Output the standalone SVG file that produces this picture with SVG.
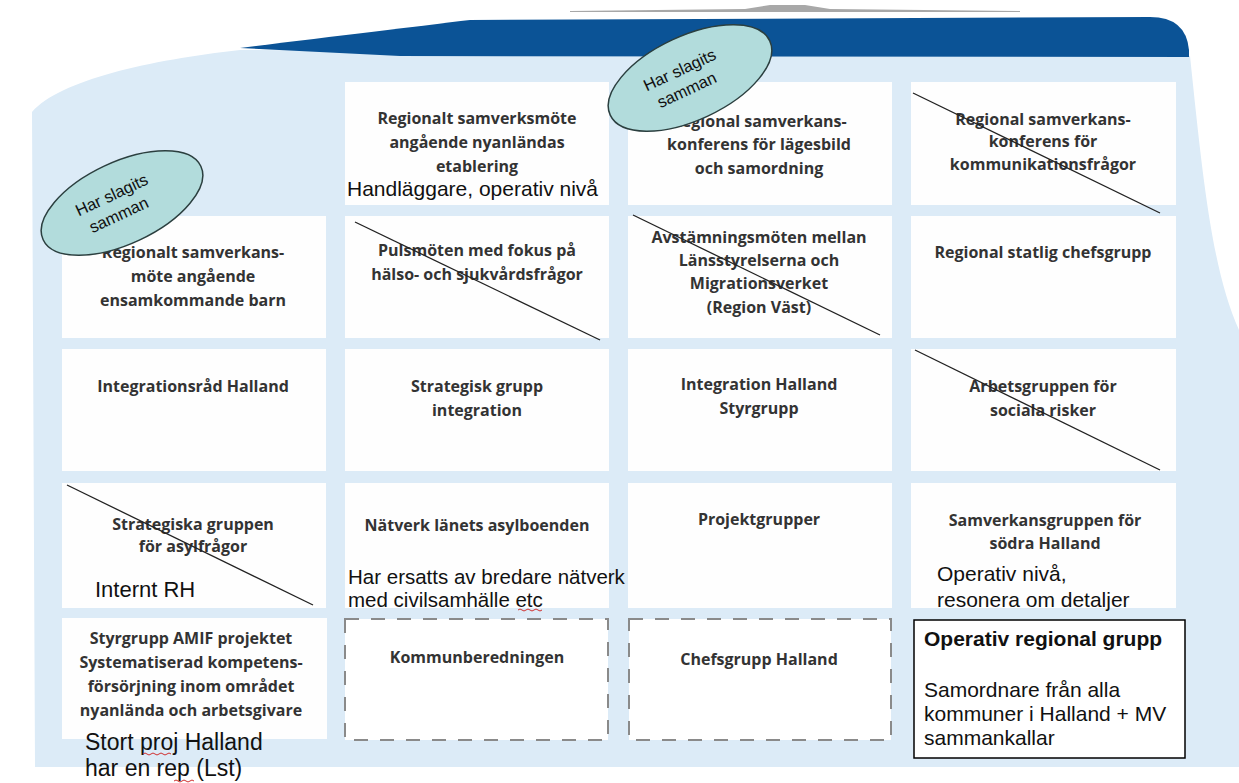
<svg xmlns="http://www.w3.org/2000/svg" width="1239" height="783" viewBox="0 0 1239 783">
<style>
.cell{fill:#fefefe}
.lbl{font-family:"Open Sans","DejaVu Sans",sans-serif;font-weight:700;font-size:16px;fill:#333;text-anchor:middle}
.note{font-family:"Liberation Sans",Arial,sans-serif;font-size:21px;fill:#111}
.dash{fill:#fff;stroke:#8a8a8a;stroke-width:2;stroke-dasharray:14 12}
.strike{stroke:#222;stroke-width:1.3}
.ell{fill:#b2dcdc;stroke:#2b3f3f;stroke-width:1.5}
.et{font-family:"Liberation Sans",Arial,sans-serif;font-size:16.5px;fill:#111;text-anchor:middle}
.sq{fill:none;stroke:#d03030;stroke-width:1}
</style>
<rect x="0" y="0" width="1239" height="783" fill="#fff"/>
<g id="background">
<path d="M 570 11 L 745 9 L 770 5 L 805 5 L 830 9 L 1020 11 L 1020 12 L 570 12 Z" fill="#a8a8a8"/>
<path d="M 240 50 C 150 60 60 80 32 112 L 35 767 L 1239 767 L 1239 330 C 1212 270 1203 180 1190 56 Z" fill="#dcebf7"/>
<path d="M 240 48 C 320 38 420 26 470 20 L 1150 17 Q 1186 17 1189 50 L 1189 57 L 400 56 Z" fill="#0b5396"/>
</g>
<g id="cell-r1c2"><rect class="cell" x="345" y="82" width="264" height="123"/>
<text class="lbl" x="477" y="124">Regionalt samverksmöte</text>
<text class="lbl" x="477" y="148">angående nyanländas</text>
<text class="lbl" x="477" y="172">etablering</text>
<text class="note" x="347" y="196">Handläggare, operativ nivå</text></g>
<g id="cell-r1c3"><rect class="cell" x="628" y="82" width="264" height="123"/>
<text class="lbl" x="759" y="127">Regional samverkans-</text>
<text class="lbl" x="759" y="150">konferens för lägesbild</text>
<text class="lbl" x="759" y="174">och samordning</text></g>
<g id="cell-r1c4"><rect class="cell" x="911" y="82" width="265" height="123"/>
<text class="lbl" x="1043" y="125">Regional samverkans-</text>
<text class="lbl" x="1043" y="147">konferens för</text>
<text class="lbl" x="1043" y="170">kommunikationsfrågor</text></g>
<g id="cell-r2c1"><rect class="cell" x="62" y="216" width="264" height="122"/>
<text class="lbl" x="193" y="258">Regionalt samverkans-</text>
<text class="lbl" x="193" y="282">möte angående</text>
<text class="lbl" x="193" y="306">ensamkommande barn</text></g>
<g id="cell-r2c2"><rect class="cell" x="345" y="216" width="264" height="122"/>
<text class="lbl" x="477" y="256">Pulsmöten med fokus på</text>
<text class="lbl" x="477" y="280">hälso- och sjukvårdsfrågor</text></g>
<g id="cell-r2c3"><rect class="cell" x="628" y="216" width="264" height="122"/>
<text class="lbl" x="759" y="243">Avstämningsmöten mellan</text>
<text class="lbl" x="759" y="266">Länsstyrelserna och</text>
<text class="lbl" x="759" y="289">Migrationsverket</text>
<text class="lbl" x="759" y="313">(Region Väst)</text></g>
<g id="cell-r2c4"><rect class="cell" x="911" y="216" width="265" height="122"/>
<text class="lbl" x="1043" y="258">Regional statlig chefsgrupp</text></g>
<g id="cell-r3c1"><rect class="cell" x="62" y="349" width="264" height="122"/>
<text class="lbl" x="193" y="392">Integrationsråd Halland</text></g>
<g id="cell-r3c2"><rect class="cell" x="345" y="349" width="264" height="122"/>
<text class="lbl" x="477" y="392">Strategisk grupp</text>
<text class="lbl" x="477" y="416">integration</text></g>
<g id="cell-r3c3"><rect class="cell" x="628" y="349" width="264" height="122"/>
<text class="lbl" x="759" y="390">Integration Halland</text>
<text class="lbl" x="759" y="414">Styrgrupp</text></g>
<g id="cell-r3c4"><rect class="cell" x="911" y="349" width="265" height="122"/>
<text class="lbl" x="1043" y="392">Arbetsgruppen för</text>
<text class="lbl" x="1043" y="416">sociala risker</text></g>
<g id="cell-r4c1"><rect class="cell" x="62" y="483" width="264" height="125"/>
<text class="lbl" x="193" y="530">Strategiska gruppen</text>
<text class="lbl" x="193" y="552">för asylfrågor</text>
<text class="note" x="95" y="597" style="font-size:22px">Internt RH</text></g>
<g id="cell-r4c2"><rect class="cell" x="345" y="483" width="264" height="125"/>
<text class="lbl" x="477" y="531">Nätverk länets asylboenden</text>
<text class="note" x="348" y="584" style="font-size:20.5px">Har ersatts av bredare nätverk</text>
<text class="note" x="348" y="607" style="font-size:20.5px">med civilsamhälle etc</text>
<path class="sq" d="M 518 610 q 2 -2 4 0 t 4 0 t 4 0 t 4 0 t 4 0 t 4 0"/></g>
<g id="cell-r4c3"><rect class="cell" x="628" y="483" width="264" height="125"/>
<text class="lbl" x="759" y="525">Projektgrupper</text></g>
<g id="cell-r4c4"><rect class="cell" x="911" y="483" width="265" height="125"/>
<text class="lbl" x="1045" y="526">Samverkansgruppen för</text>
<text class="lbl" x="1045" y="549">södra Halland</text>
<text class="note" x="937" y="581">Operativ nivå,</text>
<text class="note" x="937" y="607">resonera om detaljer</text></g>
<g id="cell-r5c1"><rect class="cell" x="62" y="618" width="265" height="121"/>
<text class="lbl" x="191" y="644">Styrgrupp AMIF projektet</text>
<text class="lbl" x="191" y="668">Systematiserad kompetens-</text>
<text class="lbl" x="191" y="692">försörjning inom området</text>
<text class="lbl" x="191" y="716">nyanlända och arbetsgivare</text>
<text class="note" x="85" y="750" style="font-size:23px">Stort proj Halland</text>
<text class="note" x="85" y="776" style="font-size:23px">har en rep (Lst)</text>
<path class="sq" d="M 143 754 q 2 -2 4 0 t 4 0 t 4 0 t 4 0 t 4 0 t 4 0 t 4 0"/>
<path class="sq" d="M 174 781 q 2 -2 4 0 t 4 0 t 4 0 t 4 0 t 4 0"/></g>
<g id="cell-r5c2"><rect class="dash" x="345" y="619" width="263" height="121"/>
<text class="lbl" x="477" y="663">Kommunberedningen</text></g>
<g id="cell-r5c3"><rect class="dash" x="629" y="619" width="262" height="121"/>
<text class="lbl" x="759" y="665">Chefsgrupp Halland</text></g>
<g id="cell-r5c4"><rect x="914" y="620" width="271" height="138" fill="#fff" stroke="#000" stroke-width="1.5"/>
<text class="note" x="924" y="646" font-weight="bold">Operativ regional grupp</text>
<text class="note" x="924" y="697">Samordnare från alla</text>
<text class="note" x="924" y="721">kommuner i Halland + MV</text>
<text class="note" x="924" y="745">sammankallar</text></g>
<g id="strikes">
<line class="strike" x1="913" y1="93" x2="1160" y2="213"/>
<line class="strike" x1="355" y1="222" x2="600" y2="340"/>
<line class="strike" x1="633" y1="215" x2="880" y2="335"/>
<line class="strike" x1="915" y1="350" x2="1160" y2="470"/>
<line class="strike" x1="67" y1="485" x2="313" y2="605"/>
</g>
<g id="merged-note-1" transform="translate(122 203) rotate(-25)">
<ellipse class="ell" cx="0" cy="0" rx="87" ry="41"/>
<text class="et" x="-6" y="-6">Har  slagits</text>
<text class="et" x="-8" y="15">samman</text></g>
<g id="merged-note-2" transform="translate(690 78) rotate(-25)">
<ellipse class="ell" cx="0" cy="0" rx="88" ry="42"/>
<text class="et" x="-6" y="-6">Har  slagits</text>
<text class="et" x="-8" y="15">samman</text></g>
</svg>
